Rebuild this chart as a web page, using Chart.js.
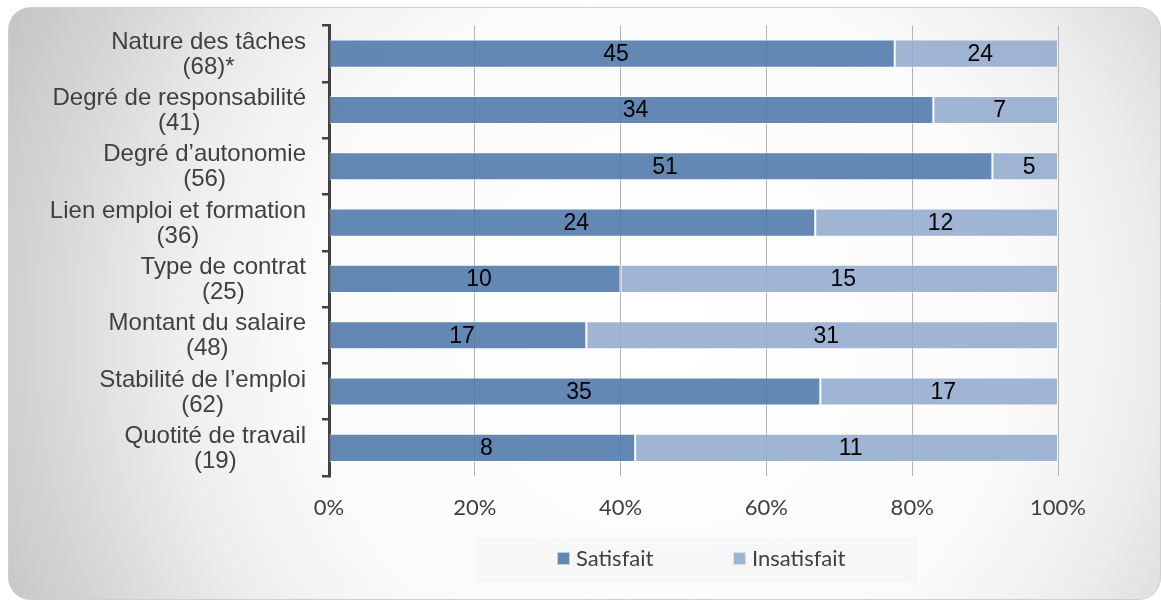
<!DOCTYPE html>
<html>
<head>
<meta charset="utf-8">
<script src="https://cdn.jsdelivr.net/npm/chart.js@4.4.1/dist/chart.umd.min.js"></script>
<style>
  html, body { margin: 0; padding: 0; background: #fff; }
  #wrap { width: 1161px; height: 601px; position: relative; }
</style>
</head>
<body>
<div id="wrap"><canvas id="myChart" width="1161" height="601"></canvas></div>
<script>
// categories (two lines each, as in the picture)
const categories = [
  ['Nature des tâches', '(68)*'],
  ['Degré de responsabilité', '(41)'],
  ['Degré d\u2019autonomie', '(56)'],
  ['Lien emploi et formation', '(36)'],
  ['Type de contrat', '(25)'],
  ['Montant du salaire', '(48)'],
  ['Stabilité de l\u2019emploi', '(62)'],
  ['Quotité de travail', '(19)']
];

// bar shares (%)
const satisfaitPct   = [77.6, 82.9, 91.0, 66.7, 40.0, 35.3, 67.4, 42.0];
const insatisfaitPct = [22.4, 17.1,  9.0, 33.3, 60.0, 64.7, 32.6, 58.0];

// counts written on the bars
const satisfaitN   = [45, 34, 51, 24, 10, 17, 35, 8];
const insatisfaitN = [24, 7, 5, 12, 15, 31, 17, 11];

const xTicks = [0, 20, 40, 60, 80, 100];
const seriesNames = ['Satisfait', 'Insatisfait'];

const colSat = 'rgba(79,119,170,0.88)';
const colIns = 'rgba(147,170,206,0.88)';

// background panel with radial gradient
const bgPlugin = {
  id: 'bgPanel',
  beforeDraw(chart) {
    const c = chart.ctx;
    c.save();
    c.fillStyle = '#fff';
    c.fillRect(0, 0, chart.width, chart.height);
    const g = c.createRadialGradient(660, 330, 0, 660, 330, 780);
    g.addColorStop(0, '#ffffff');
    g.addColorStop(0.45, '#fbfbfb');
    g.addColorStop(0.62, '#eeeeee');
    g.addColorStop(0.8, '#d5d5d5');
    g.addColorStop(1, '#bbbbbb');
    c.beginPath();
    c.roundRect(8.5, 7.5, 1152, 592, 22);
    c.fillStyle = g;
    c.fill();
    c.strokeStyle = '#cfcfcf';
    c.lineWidth = 1;
    c.stroke();

    // legend box
    c.fillStyle = 'rgba(230,230,230,0.22)';
    c.fillRect(476, 537, 442, 46);
    c.restore();
  },
  afterDraw(chart) {
    const c = chart.ctx;
    c.save();
    // legend
    const items = [
      { x: 557, color: colSat, text: seriesNames[0] },
      { x: 733, color: colIns, text: seriesNames[1] }
    ];
    c.font = '22px Lato';
    c.textBaseline = 'middle';
    c.textAlign = 'left';
    items.forEach(it => {
      c.fillStyle = it.color;
      c.fillRect(it.x, 552, 13, 13);
      c.strokeStyle = 'rgba(255,255,255,0.6)';
      c.strokeRect(it.x + 0.5, 552.5, 12, 12);
      c.fillStyle = '#404040';
      c.fillText(it.text, it.x + 19, 559);
    });

    // category labels: block right-aligned, lines centred within block
    const ys = chart.scales.y;
    c.font = '24px "Liberation Sans", Arial';
    c.fillStyle = '#404040';
    c.textAlign = 'center';
    c.textBaseline = 'middle';
    categories.forEach((lines, i) => {
      const cy = ys.getPixelForValue(i);
      const w = Math.max(...lines.map(l => c.measureText(l).width));
      const cx = 306 - w / 2;
      lines.forEach((l, k) => {
        c.fillText(l, cx, cy + (k - (lines.length - 1) / 2) * 25 + 1);
      });
    });
    c.restore();
  }
};

// counts in the middle of each segment
const countLabels = {
  id: 'countLabels',
  afterDatasetsDraw(chart) {
    const c = chart.ctx;
    const counts = [satisfaitN, insatisfaitN];
    c.save();
    c.font = '23px "Liberation Sans", Arial';
    c.fillStyle = '#000';
    c.textAlign = 'center';
    c.textBaseline = 'middle';
    chart.data.datasets.forEach((ds, di) => {
      chart.getDatasetMeta(di).data.forEach((bar, i) => {
        c.fillText(counts[di][i], (bar.x + bar.base) / 2 + 4, bar.y + 1);
      });
    });
    c.restore();
  }
};

var ctx = document.getElementById('myChart').getContext('2d');
var chart = new Chart(ctx, {
  type: 'bar',
  data: {
    labels: categories,
    datasets: [{
      label: seriesNames[0],
      data: satisfaitPct,
      backgroundColor: colSat,
      borderColor: 'rgba(255,255,255,0.55)',
      borderWidth: 1,
      borderSkipped: false,
      barPercentage: 0.5,
      categoryPercentage: 1
    }, {
      label: seriesNames[1],
      data: insatisfaitPct,
      backgroundColor: colIns,
      borderColor: 'rgba(255,255,255,0.55)',
      borderWidth: 1,
      borderSkipped: false,
      barPercentage: 0.5,
      categoryPercentage: 1
    }]
  },
  options: {
    indexAxis: 'y',
    responsive: false,
    animation: false,
    layout: { padding: { top: 25.5, right: 103, bottom: 0, left: 0 } },
    plugins: {
      legend: { display: false },
      tooltip: { enabled: false }
    },
    scales: {
      x: {
        stacked: true,
        min: 0,
        max: 100,
        afterBuildTicks: s => { s.ticks = xTicks.map(v => ({ value: v })); },
        afterFit: s => { s.height = 125; },
        ticks: {
          callback: v => v + '%',
          font: { family: 'Lato', size: 22 },
          color: '#404040',
          padding: 19
        },
        grid: { color: '#b3b3b3', lineWidth: 1, drawTicks: false },
        border: { display: false }
      },
      y: {
        stacked: true,
        afterFit: s => { s.width = 329; },
        ticks: { display: false },
        grid: {
          drawOnChartArea: false,
          drawTicks: true,
          tickLength: 7,
          lineWidth: 2.5,
          color: '#404040',
          offset: true
        },
        border: { display: true, color: '#404040', width: 3 }
      }
    }
  },
  plugins: [bgPlugin, countLabels]
});
</script>
</body>
</html>
